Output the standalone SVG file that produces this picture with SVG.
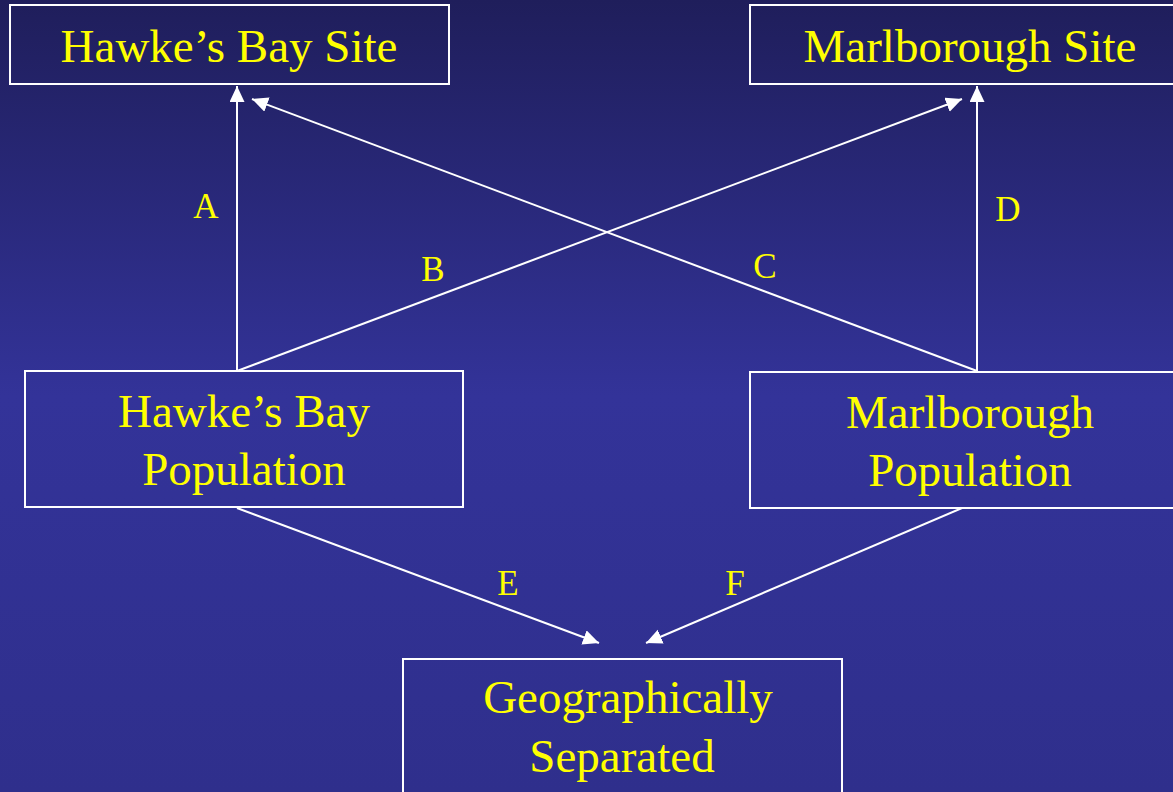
<svg xmlns="http://www.w3.org/2000/svg" width="1173" height="792" viewBox="0 0 1173 792">
<defs>
<linearGradient id="bg" x1="0" y1="0" x2="0" y2="1">
<stop offset="0" stop-color="#1f1e5b"/>
<stop offset="0.5" stop-color="#333399"/>
<stop offset="1" stop-color="#2f2f8c"/>
</linearGradient>
<marker id="ah" markerUnits="userSpaceOnUse" markerWidth="18" markerHeight="16" refX="16" refY="7.5" orient="auto">
<path d="M0,0 L16,7.5 L0,15 Z" fill="#ffffff"/>
</marker>
<style>
.box{fill:none;stroke:#ffffff;stroke-width:2}
.t{font-family:"Liberation Serif","Times New Roman",serif;fill:#ffff00;font-size:47px;text-anchor:middle}
.lbl{font-family:"Liberation Serif","Times New Roman",serif;fill:#ffff00;font-size:35px;text-anchor:middle}
.c{stroke:#ffffff;stroke-width:2;fill:none;marker-end:url(#ah)}
</style>
</defs>
<rect x="0" y="0" width="1173" height="792" fill="url(#bg)"/>
<g id="connectors">
<line class="c" x1="237" y1="371" x2="237" y2="86"/>
<line class="c" x1="237" y1="371" x2="962" y2="99"/>
<line class="c" x1="977" y1="371" x2="252" y2="99"/>
<line class="c" x1="977" y1="371" x2="977" y2="86"/>
<line class="c" x1="237" y1="508" x2="599" y2="643"/>
<line class="c" x1="962" y1="508" x2="646" y2="643"/>
<text class="lbl" x="206" y="218">A</text>
<text class="lbl" x="433" y="281">B</text>
<text class="lbl" x="765" y="278">C</text>
<text class="lbl" x="1008" y="221">D</text>
<text class="lbl" x="508" y="595">E</text>
<text class="lbl" x="735" y="595">F</text>
</g>
<g id="hb-site">
<rect class="box" x="10" y="5" width="439" height="79"/>
<text class="t" x="229" y="62">Hawke’s Bay Site</text>
</g>
<g id="m-site">
<rect class="box" x="750" y="5" width="440" height="79"/>
<text class="t" x="970" y="62">Marlborough Site</text>
</g>
<g id="hb-pop">
<rect class="box" x="25" y="371" width="438" height="136"/>
<text class="t" x="244" y="427">Hawke’s Bay</text>
<text class="t" x="244" y="485">Population</text>
</g>
<g id="m-pop">
<rect class="box" x="750" y="372" width="440" height="136"/>
<text class="t" x="970" y="428">Marlborough</text>
<text class="t" x="970" y="486">Population</text>
</g>
<g id="geo">
<rect class="box" x="403" y="659" width="439" height="150"/>
<text class="t" x="628" y="713">Geographically</text>
<text class="t" x="622" y="772">Separated</text>
</g>
</svg>
